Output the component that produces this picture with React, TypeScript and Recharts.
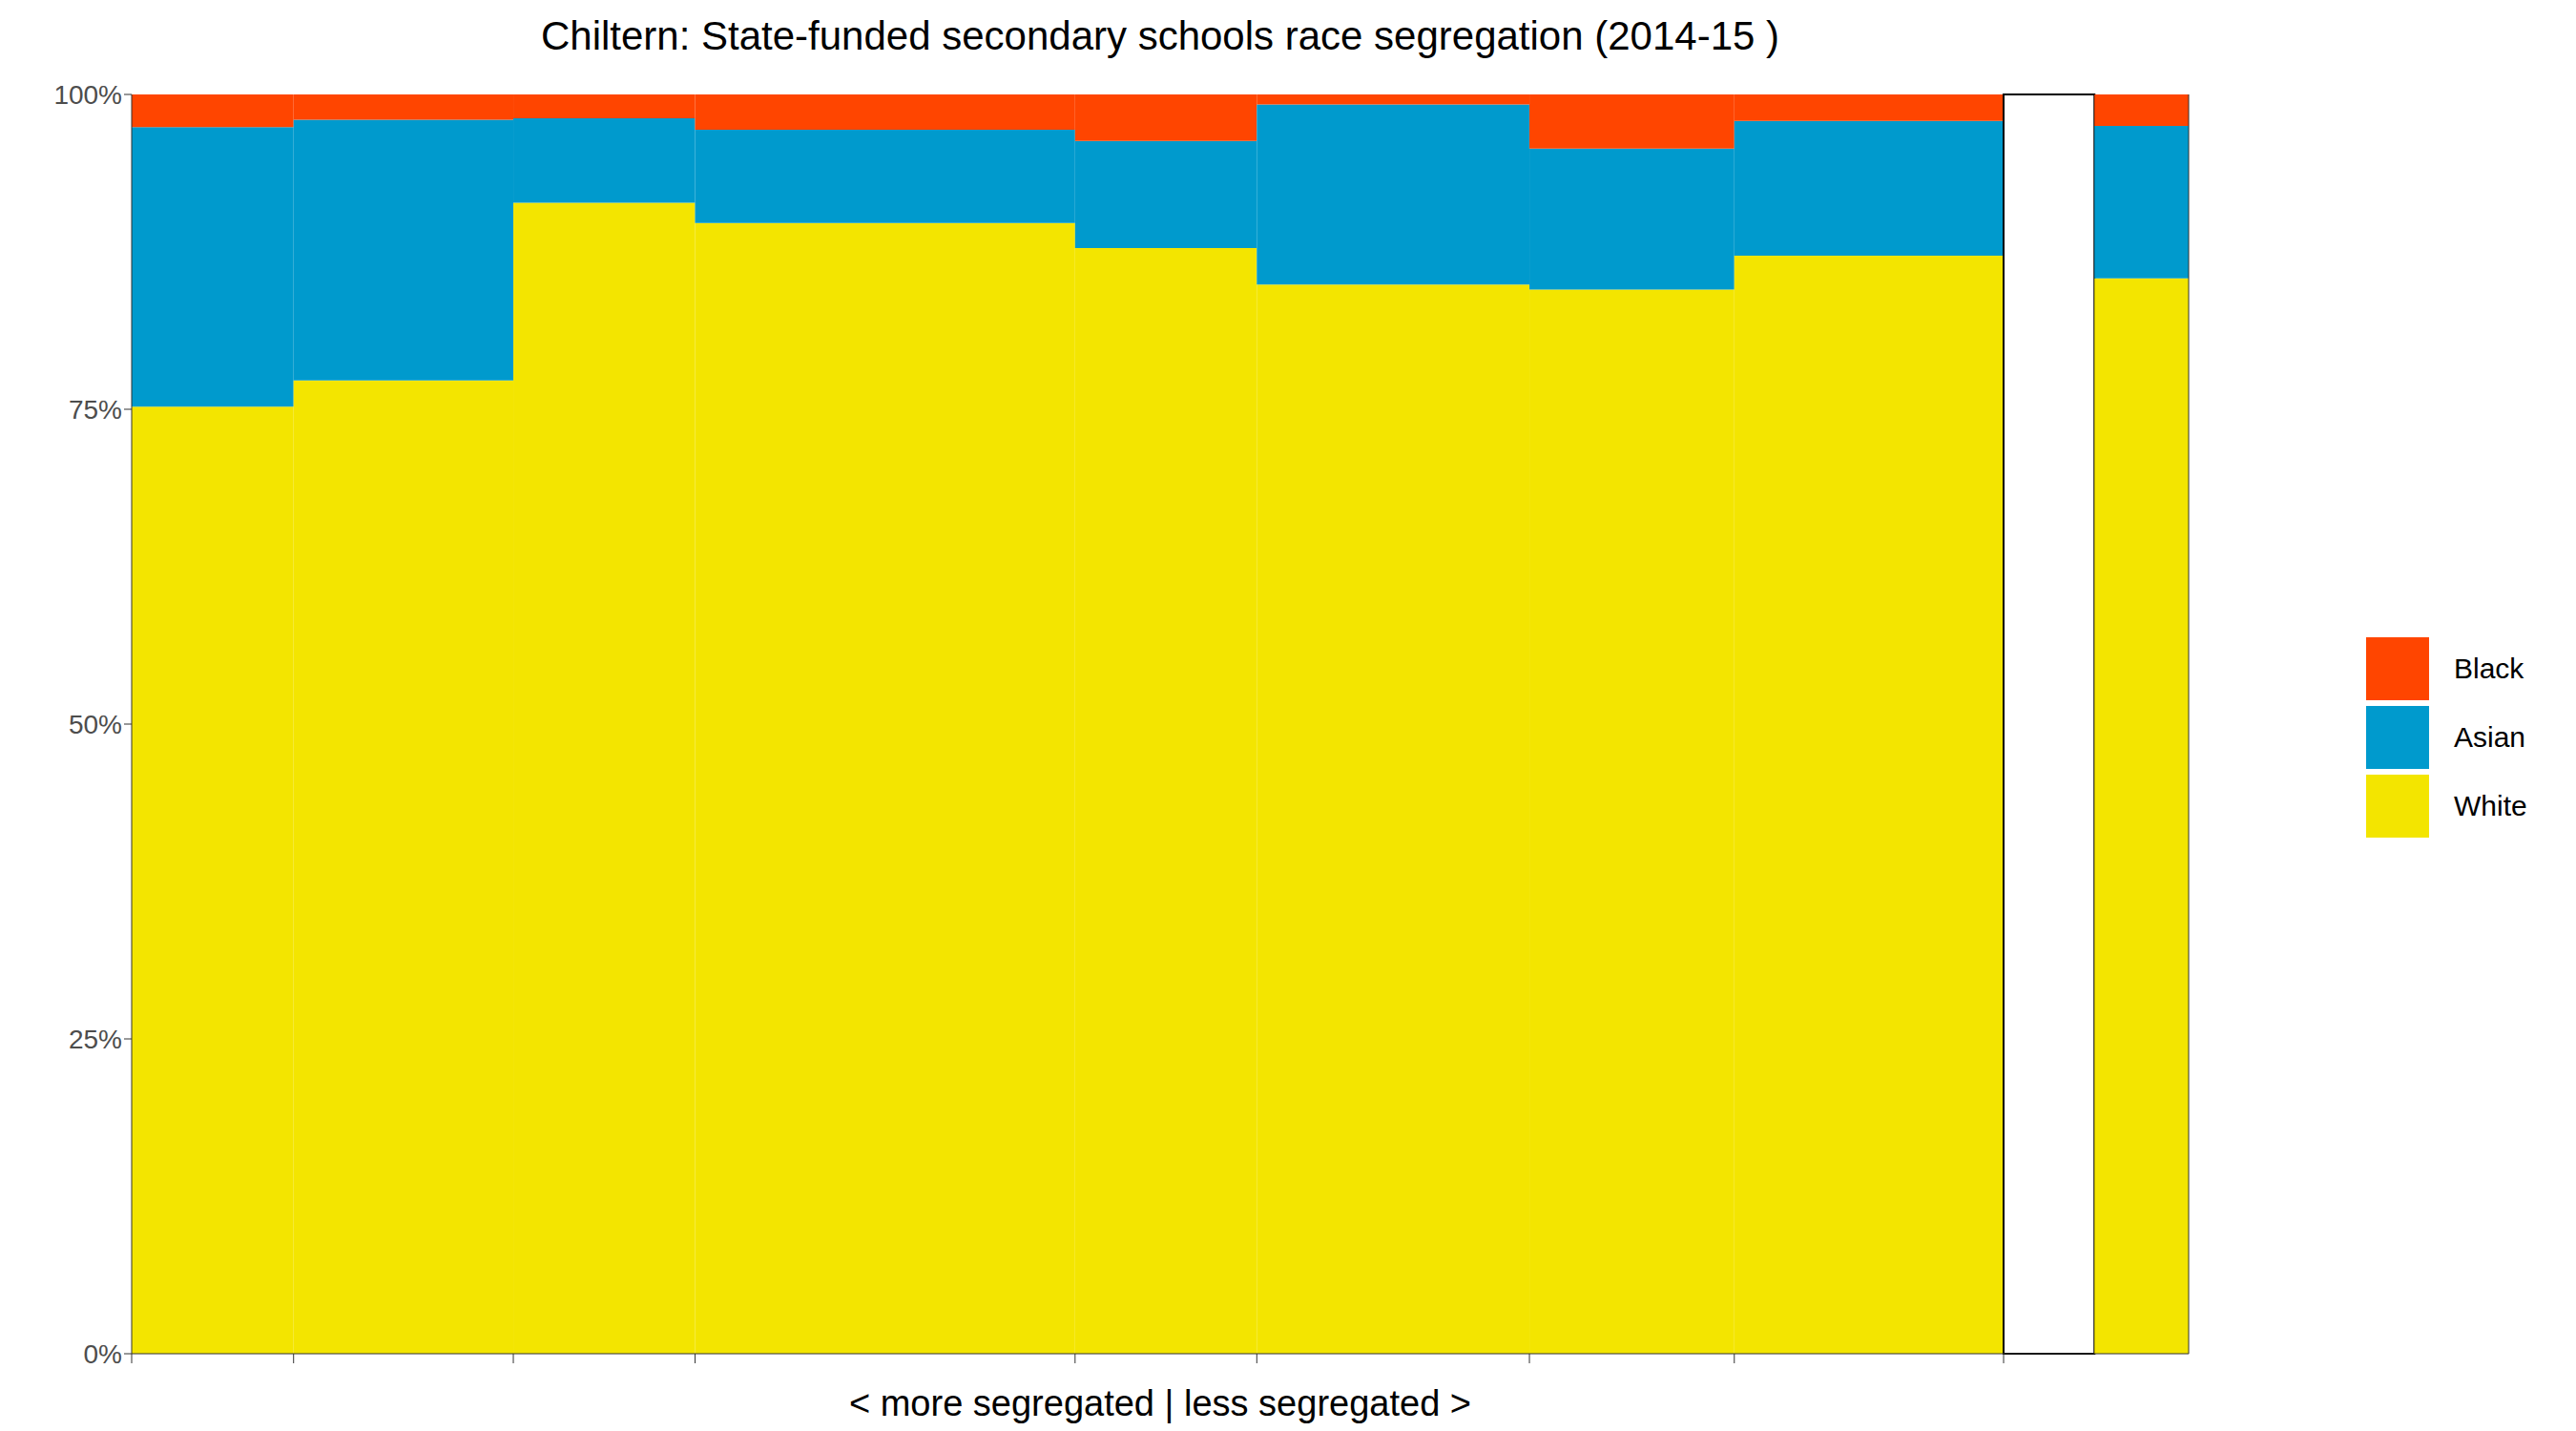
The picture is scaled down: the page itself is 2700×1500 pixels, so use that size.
import React from "react";
import { ComposedChart, Line, XAxis, YAxis, ReferenceArea } from "recharts";

// widths of each school column (pupil counts, relative), last-but-one is the gap
const widths = [98, 133, 110, 230, 110, 165, 124, 163, 55, 57];
const white = [75.2, 77.3, 91.4, 89.8, 87.8, 84.9, 84.5, 87.2, null, 85.4];
const asianTop = [97.4, 98.0, 98.1, 97.2, 96.3, 99.2, 95.7, 97.9, null, 97.5];

const COLORS = { Black: "#FF4500", Asian: "#009ACD", White: "#F3E500" };
const legendItems = ["Black", "Asian", "White"] as const;

const starts: number[] = [];
widths.reduce((acc, w) => {
  starts.push(acc);
  return acc + w;
}, 0);
const total = widths.reduce((a, b) => a + b, 0);
const xTicks = starts.slice(0, 9);
const yTicks = [0, 25, 50, 75, 100];

const FONT = "'Liberation Sans', Arial, sans-serif";

export default function App() {
  const dummy = xTicks.map((x) => ({ x, y: 0 }));
  return (
    <div style={{ position: "relative", width: 2700, height: 1500, fontFamily: FONT, margin: -8 }}>
      <div style={{ position: "absolute", top: 14, left: 138, width: 2156, textAlign: "center", fontSize: 42 }}>
        Chiltern: State-funded secondary schools race segregation (2014-15 )
      </div>
      <ComposedChart width={2700} height={1500} data={dummy} margin={{ top: 99, right: 326, bottom: 0, left: 58 }}>
        <XAxis
          dataKey="x"
          type="number"
          domain={[0, total]}
          ticks={xTicks}
          tickFormatter={() => ""}
          tickSize={10}
          stroke="#333"
          height={81}
          label={{ value: "< more segregated | less segregated >", position: "insideBottom", offset: 16, fontSize: 38, fill: "#000" }}
        />
        <YAxis yAxisId="l" domain={[0, 100]} ticks={yTicks} tickFormatter={(v) => `${v}%`} width={80} tickSize={8}
          stroke="#333" tick={{ fontSize: 28, fill: "#4d4d4d" }} />
        <YAxis yAxisId="r" orientation="right" domain={[0, 100]} ticks={yTicks} tickFormatter={(v) => `${v}%`} width={80} tickSize={8}
          stroke="#333" tick={{ fontSize: 28, fill: "#4d4d4d" }} />
        {widths.map((w, i) => {
          const x1 = starts[i];
          const x2 = x1 + w;
          if (white[i] === null) {
            return (
              <ReferenceArea key={`g${i}`} yAxisId="l" x1={x1} x2={x2} y1={0} y2={100} fill="#fff" fillOpacity={1} stroke="#000" strokeWidth={2} />
            );
          }
          return (
            <React.Fragment key={i}>
              <ReferenceArea yAxisId="l" x1={x1} x2={x2} y1={0} y2={white[i] as number} fill={COLORS.White} fillOpacity={1} />
              <ReferenceArea yAxisId="l" x1={x1} x2={x2} y1={white[i] as number} y2={asianTop[i] as number} fill={COLORS.Asian} fillOpacity={1} />
              <ReferenceArea yAxisId="l" x1={x1} x2={x2} y1={asianTop[i] as number} y2={100} fill={COLORS.Black} fillOpacity={1} />
            </React.Fragment>
          );
        })}
        <Line yAxisId="l" dataKey="y" stroke="none" dot={false} isAnimationActive={false} />
      </ComposedChart>
      <div style={{ position: "absolute", left: 2480, top: 665 }}>
        {legendItems.map((k) => (
          <div key={k} style={{ display: "flex", alignItems: "center", height: 72 }}>
            <div style={{ width: 66, height: 66, background: COLORS[k] }} />
            <span style={{ marginLeft: 26, fontSize: 30 }}>{k}</span>
          </div>
        ))}
      </div>
    </div>
  );
}
